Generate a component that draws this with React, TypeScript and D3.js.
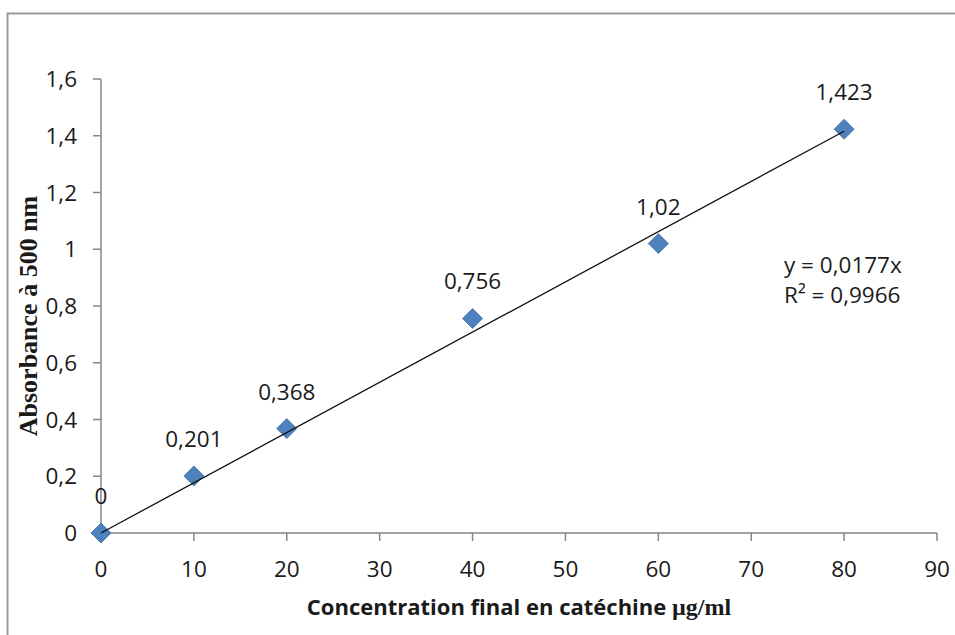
import React from "react";
import * as d3 from "d3";

// Catechin calibration series
const concentrations = [0, 10, 20, 40, 60, 80];
const absorbances = [0, 0.201, 0.368, 0.756, 1.02, 1.423];
const pointLabels = ["0", "0,201", "0,368", "0,756", "1,02", "1,423"];
const xTicks = [0, 10, 20, 30, 40, 50, 60, 70, 80, 90];
const yTicks = [0, 0.2, 0.4, 0.6, 0.8, 1, 1.2, 1.4, 1.6];
const slope = 0.0177;
const equationLines = ["y = 0,0177x", "R² = 0,9966"];

const W = 955;
const H = 635;
const font = "'Open Sans', 'Noto Sans', sans-serif";
const serif = "'Liberation Serif', 'DejaVu Serif', serif";
const fs = 22.5;

export default function App() {
  const x = d3.scaleLinear().domain([0, 90]).range([101, 937]);
  const y = d3.scaleLinear().domain([0, 1.6]).range([533, 79]);
  const fmt = (v: number) => d3.format(".1f")(v).replace(".", ",").replace(/,0$/, "");
  const axisColor = "#868686";
  const trend = d3.line<number>().x((c) => x(c)).y((c) => y(slope * c));

  return (
    <svg
      width={W}
      height={H}
      style={{ position: "absolute", left: 0, top: 0, background: "#fff" }}
    >
      <path d={`M7.5,${H}V13.5H${W}`} fill="none" stroke="#9a9a9a" strokeWidth={2} />

      {/* y axis */}
      <line x1={x(0)} x2={x(0)} y1={y(0)} y2={y(1.6)} stroke={axisColor} strokeWidth={1.5} />
      {yTicks.map((t) => (
        <g key={t}>
          <line x1={x(0) - 8} x2={x(0)} y1={y(t)} y2={y(t)} stroke={axisColor} strokeWidth={1.5} />
          <text
            x={77}
            y={y(t) + 8}
            textAnchor="end"
            fontFamily={font}
            fontSize={fs}
            fill="#1a1a1a"
          >
            {fmt(t)}
          </text>
        </g>
      ))}

      {/* x axis */}
      <line x1={x(0)} x2={x(90)} y1={y(0)} y2={y(0)} stroke={axisColor} strokeWidth={1.5} />
      {xTicks.map((t) => (
        <g key={t}>
          <line x1={x(t)} x2={x(t)} y1={y(0)} y2={y(0) + 8} stroke={axisColor} strokeWidth={1.5} />
          <text
            x={x(t)}
            y={577}
            textAnchor="middle"
            fontFamily={font}
            fontSize={fs}
            fill="#1a1a1a"
          >
            {t}
          </text>
        </g>
      ))}

      {/* data markers */}
      {concentrations.map((c, i) => {
        const cx = x(c);
        const cy = y(absorbances[i]);
        const r = 10;
        return (
          <path
            key={c}
            d={`M${cx},${cy - r}L${cx + r},${cy}L${cx},${cy + r}L${cx - r},${cy}Z`}
            fill="#4F81BD"
            stroke="#3d6ca6"
            strokeWidth={0.8}
          />
        );
      })}

      {/* linear trend line, drawn over the markers */}
      <path d={trend([0, 80]) ?? ""} fill="none" stroke="#111" strokeWidth={1.3} />

      {/* value labels */}
      {concentrations.map((c, i) => (
        <text
          key={`l${c}`}
          x={x(c)}
          y={y(absorbances[i]) - 29}
          textAnchor="middle"
          fontFamily={font}
          fontSize={fs}
          fill="#1a1a1a"
        >
          {pointLabels[i]}
        </text>
      ))}

      {/* equation */}
      {equationLines.map((l, i) => (
        <text
          key={l}
          x={784}
          y={273 + i * 30}
          fontFamily={font}
          fontSize={fs}
          fill="#1a1a1a"
        >
          {l}
        </text>
      ))}

      {/* axis titles */}
      <text
        x={519}
        y={615}
        textAnchor="middle"
        fontFamily={font}
        fontSize={22}
        fontWeight="bold"
        fill="#1a1a1a"
      >
        Concentration final en catéchine{" "}
        <tspan fontFamily={serif} fontSize={24}>µg/ml</tspan>
      </text>
      <text
        transform="translate(37,316) rotate(-90)"
        textAnchor="middle"
        fontFamily={serif}
        fontSize={26}
        fontWeight="bold"
        fill="#1a1a1a"
      >
        Absorbance à 500 nm
      </text>
    </svg>
  );
}
